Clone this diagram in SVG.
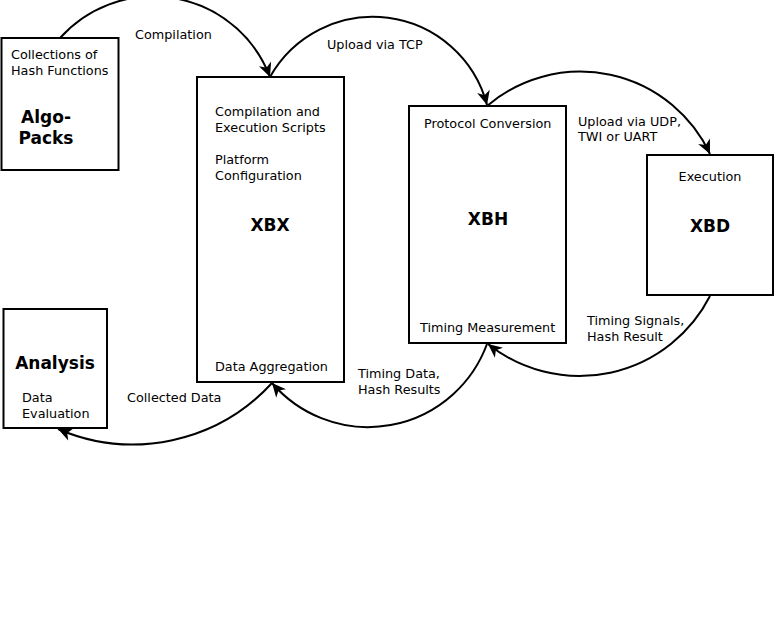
<svg xmlns="http://www.w3.org/2000/svg" width="776" height="641" viewBox="0 0 776 641">
<style>
.box{fill:#fff;stroke:#000;stroke-width:2}
.t{font-family:"DejaVu Sans",sans-serif;font-size:12.8px;fill:#000}
.b{font-family:"DejaVu Sans",sans-serif;font-size:17px;font-weight:bold;fill:#000;text-anchor:middle}
.c{fill:none;stroke:#000;stroke-width:2;marker-end:url(#ah)}
</style>
<defs>
<marker id="ah" markerUnits="userSpaceOnUse" markerWidth="18" markerHeight="16" viewBox="-16 -8 18 16" refX="0" refY="0" orient="auto">
<path d="M0,0 L-14,-6.5 L-10,0 L-14,6.5 Z" fill="#000"/>
</marker>
</defs>
<rect width="776" height="641" fill="#fff"/>
<g id="connectors">
<path class="c" d="M60,38 A125,125 0 0 1 270,77"/>
<path class="c" d="M270,77 A118,118 0 0 1 487,105"/>
<path class="c" d="M487,106 A143.5,143.5 0 0 1 710,154"/>
<path class="c" d="M710,296 A146.6,146.6 0 0 1 488,344"/>
<path class="c" d="M487,344 A126.7,126.7 0 0 1 272,383"/>
<path class="c" d="M272,383 A188.7,188.7 0 0 1 58,429"/>
<text class="t" x="135" y="39">Compilation</text>
<text class="t" x="327" y="49">Upload via TCP</text>
<text class="t" x="578" y="126">Upload via UDP,</text>
<text class="t" x="578" y="141">TWI or UART</text>
<text class="t" x="587" y="325">Timing Signals,</text>
<text class="t" x="587" y="341">Hash Result</text>
<text class="t" x="358" y="378">Timing Data,</text>
<text class="t" x="358" y="394">Hash Results</text>
<text class="t" x="127" y="402">Collected Data</text>
</g>
<g id="algopacks">
<rect class="box" x="1.5" y="38" width="117" height="132"/>
<text class="t" x="11" y="59">Collections of</text>
<text class="t" x="11" y="75">Hash Functions</text>
<text class="b" x="46" y="123">Algo-</text>
<text class="b" x="46" y="144">Packs</text>
</g>
<g id="xbx">
<rect class="box" x="197" y="77" width="147" height="305"/>
<text class="t" x="215" y="116">Compilation and</text>
<text class="t" x="215" y="132">Execution Scripts</text>
<text class="t" x="215" y="164">Platform</text>
<text class="t" x="215" y="180">Configuration</text>
<text class="b" x="270" y="231">XBX</text>
<text class="t" x="215" y="371">Data Aggregation</text>
</g>
<g id="xbh">
<rect class="box" x="409" y="106" width="157" height="237"/>
<text class="t" x="424" y="128">Protocol Conversion</text>
<text class="b" x="488" y="225">XBH</text>
<text class="t" x="420" y="332">Timing Measurement</text>
</g>
<g id="xbd">
<rect class="box" x="647" y="155" width="126" height="140"/>
<text class="t" x="710" y="181" text-anchor="middle">Execution</text>
<text class="b" x="710" y="232">XBD</text>
</g>
<g id="analysis">
<rect class="box" x="3.5" y="309" width="103.5" height="119"/>
<text class="b" x="55" y="369">Analysis</text>
<text class="t" x="22" y="402">Data</text>
<text class="t" x="22" y="418">Evaluation</text>
</g>
</svg>
